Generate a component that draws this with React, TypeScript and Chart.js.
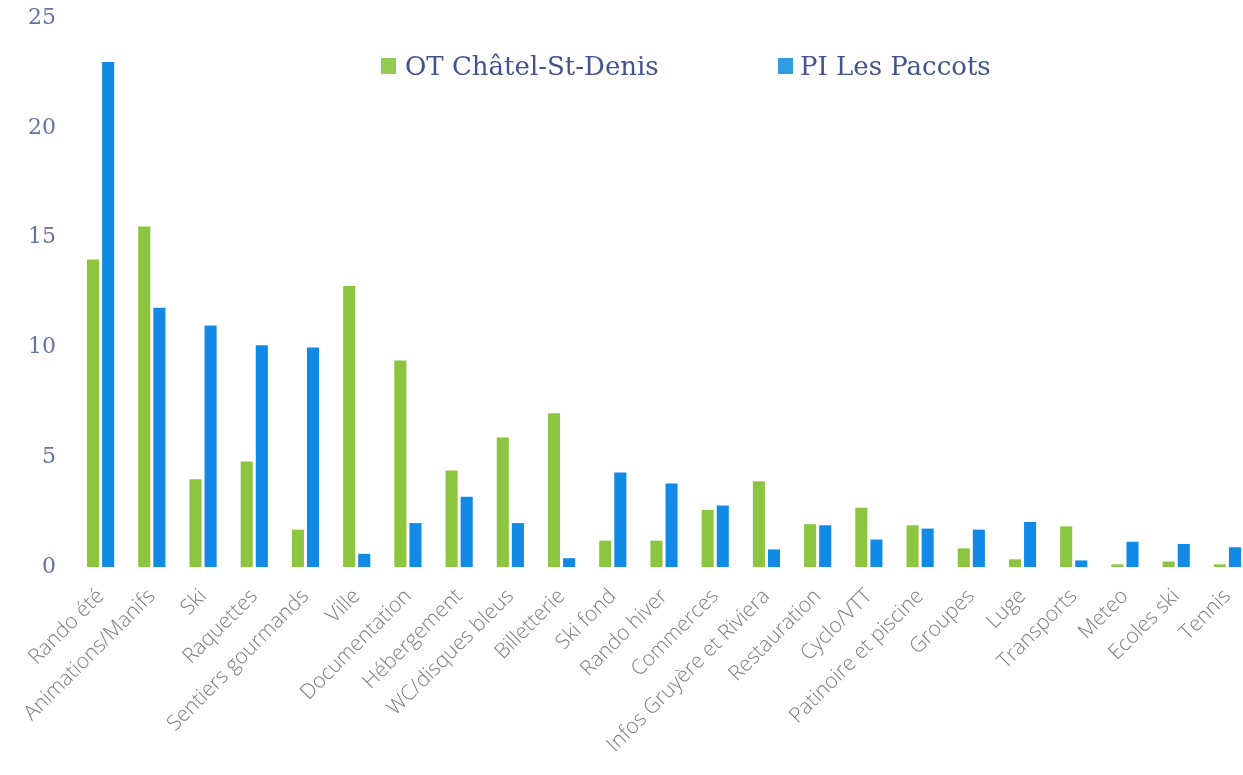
import React, { useEffect, useRef } from "react";
import { Chart, registerables } from "chart.js";

Chart.register(...registerables);

const categories = [
  "Rando été",
  "Animations/Manifs",
  "Ski",
  "Raquettes",
  "Sentiers gourmands",
  "Ville",
  "Documentation",
  "Hébergement",
  "WC/disques bleus",
  "Billetterie",
  "Ski fond",
  "Rando hiver",
  "Commerces",
  "Infos Gruyère et Riviera",
  "Restauration",
  "Cyclo/VTT",
  "Patinoire et piscine",
  "Groupes",
  "Luge",
  "Transports",
  "Meteo",
  "Ecoles ski",
  "Tennis",
];

const seriesNames = ["OT Châtel-St-Denis", "PI Les Paccots"];

const otValues = [
  14, 15.5, 4.0, 4.8, 1.7, 12.8, 9.4, 4.4, 5.9, 7.0, 1.2, 1.2, 2.6, 3.9, 1.95,
  2.7, 1.9, 0.85, 0.35, 1.85, 0.12, 0.25, 0.12,
];

const piValues = [
  23, 11.8, 11.0, 10.1, 10.0, 0.6, 2.0, 3.2, 2.0, 0.4, 4.3, 3.8, 2.8, 0.8, 1.9,
  1.25, 1.75, 1.7, 2.05, 0.3, 1.15, 1.05, 0.9,
];

const yTickValues = [0, 5, 10, 15, 20, 25];

const GREEN = "#8cc540";
const BLUE = "#118ae6";

export default function App() {
  const canvasRef = useRef<HTMLCanvasElement | null>(null);

  useEffect(() => {
    document.body.style.margin = "0";
    document.body.style.overflow = "hidden";
    const canvas = canvasRef.current;
    if (!canvas) return;
    const chart = new Chart(canvas, {
      type: "bar",
      data: {
        labels: categories,
        datasets: [
          {
            label: seriesNames[0],
            data: otValues,
            backgroundColor: GREEN,
            categoryPercentage: 0.59,
            barPercentage: 0.8,
          },
          {
            label: seriesNames[1],
            data: piValues,
            backgroundColor: BLUE,
            categoryPercentage: 0.59,
            barPercentage: 0.8,
          },
        ],
      },
      options: {
        responsive: false,
        animation: false,
        layout: { padding: { left: 0, top: 18, right: 17, bottom: 0 } },
        plugins: {
          legend: { display: false },
          tooltip: { enabled: false },
        },
        scales: {
          x: {
            grid: { display: false, drawTicks: false },
            border: { display: false },
            ticks: {
              autoSkip: false,
              maxRotation: 45,
              minRotation: 45,
              padding: 17,
              color: "#7d7d7d",
              font: { family: "'Open Sans', sans-serif", size: 21, weight: "300" },
            },
            afterFit: (scale: any) => {
              scale.height = 208;
              scale.paddingRight = 0;
            },
          },
          y: {
            min: 0,
            max: 25,
            grid: { display: false, drawTicks: false },
            border: { display: false },
            afterBuildTicks: (scale: any) => {
              scale.ticks = yTickValues.map((v) => ({ value: v }));
            },
            ticks: {
              padding: 19,
              color: "#6473a0",
              font: { family: "'DejaVu Serif', serif", size: 22 },
            },
            afterFit: (scale: any) => {
              scale.width = 75;
              scale.paddingTop = 0;
              scale.paddingBottom = 0;
            },
          },
        },
      },
    });
    return () => chart.destroy();
  }, []);

  const legendText: React.CSSProperties = {
    position: "absolute",
    top: 51,
    display: "flex",
    alignItems: "center",
    fontFamily: "'DejaVu Serif', serif",
    fontSize: 26,
    color: "#43538b",
    whiteSpace: "nowrap",
  };

  return (
    <div
      style={{
        position: "fixed",
        left: 0,
        top: 0,
        width: 1243,
        height: 775,
        overflow: "hidden",
        background: "#fff",
      }}
    >
      <canvas
        ref={canvasRef}
        width={1270}
        height={775}
        style={{ position: "absolute", left: 0, top: 0, width: 1270, height: 775 }}
      />
      <div style={{ ...legendText, left: 381 }}>
        <span
          style={{ display: "inline-block", width: 15, height: 16, background: "#94cb52", marginRight: 9 }}
        />
        <span>{seriesNames[0]}</span>
      </div>
      <div style={{ ...legendText, left: 778 }}>
        <span
          style={{ display: "inline-block", width: 15, height: 16, background: "#2f9be3", marginRight: 7 }}
        />
        <span>{seriesNames[1]}</span>
      </div>
    </div>
  );
}
